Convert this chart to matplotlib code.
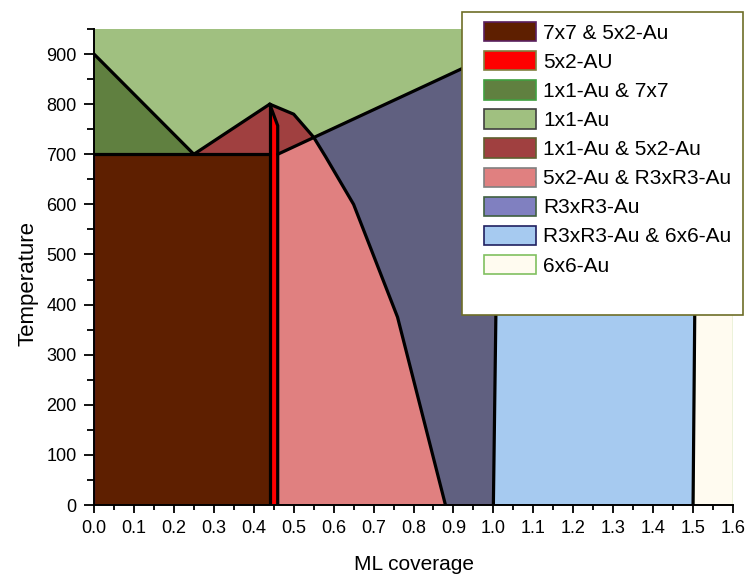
import matplotlib
matplotlib.use("Agg")
import matplotlib.pyplot as plt
from matplotlib.patches import Patch, Rectangle
from matplotlib.ticker import MultipleLocator, FormatStrFormatter

plt.rcParams['font.family'] = ['Liberation Sans', 'DejaVu Sans']

# ---- phase labels (legend order) ----
phase_labels = ["7x7 & 5x2-Au", "5x2-AU", "1x1-Au & 7x7", "1x1-Au",
                "1x1-Au & 5x2-Au", "5x2-Au & R3xR3-Au", "R3xR3-Au",
                "R3xR3-Au & 6x6-Au", "6x6-Au"]

# ---- region outlines: coverage (ML) and temperature ----
cov_7x7_5x2 = [0.0, 0.44, 0.44, 0.0]
temp_7x7_5x2 = [0, 0, 700, 700]

cov_5x2 = [0.44, 0.46, 0.46, 0.44]
temp_5x2 = [0, 0, 757, 800]

cov_1x1_7x7 = [0.0, 0.0, 0.25]
temp_1x1_7x7 = [700, 900, 700]

cov_1x1 = [0.0, 0.25, 0.44, 0.50, 0.55, 1.0, 1.6, 1.6, 0.0]
temp_1x1 = [900, 700, 800, 780, 734, 900, 900, 950, 950]

cov_1x1_5x2 = [0.25, 0.44, 0.50, 0.55, 0.46]
temp_1x1_5x2 = [700, 800, 780, 734, 700]

cov_5x2_r3 = [0.46, 0.88, 0.76, 0.65, 0.58, 0.55, 0.46]
temp_5x2_r3 = [0, 0, 375, 600, 695, 734, 700]

cov_r3 = [0.88, 1.0, 1.015, 0.55, 0.58, 0.65, 0.76]
temp_r3 = [0, 0, 905, 734, 695, 600, 375]

cov_r3_6x6 = [1.0, 1.5, 1.51, 1.015]
temp_r3_6x6 = [0, 0, 905, 905]

cov_6x6 = [1.5, 1.6, 1.6, 1.51]
temp_6x6 = [0, 0, 905, 905]

# ---- phase boundaries ----
bound_1x1_7x7_cov = [0.0, 0.25]
bound_1x1_7x7_temp = [900, 700]
bound_700_cov = [0.0, 0.44]
bound_700_temp = [700, 700]
bound_left_peak_cov = [0.25, 0.44]
bound_left_peak_temp = [700, 800]
bound_5x2_left_cov = [0.44, 0.44]
bound_5x2_left_temp = [0, 800]
bound_5x2_right_cov = [0.44, 0.46, 0.46]
bound_5x2_right_temp = [800, 757, 0]
bound_curve_cov = [0.44, 0.50, 0.55, 0.58, 0.65, 0.76, 0.88]
bound_curve_temp = [800, 780, 734, 695, 600, 375, 0]
bound_r3_top_cov = [0.46, 1.0]
bound_r3_top_temp = [700, 900]
bound_one_cov = [1.0, 1.015]
bound_one_temp = [0, 905]
bound_onehalf_cov = [1.5, 1.51]
bound_onehalf_temp = [0, 905]

W, H = 747, 579
fig = plt.figure(figsize=(W / 100, H / 100), dpi=100)
ax = fig.add_axes([94 / W, 74 / H, 639 / W, 476 / H])

regions = [
    (cov_1x1, temp_1x1, "#A0C080", "#A0C080"),
    (cov_7x7_5x2, temp_7x7_5x2, "#5E1F00", "#4A1050"),
    (cov_1x1_7x7, temp_1x1_7x7, "#608040", "#608040"),
    (cov_1x1_5x2, temp_1x1_5x2, "#A04040", "#A04040"),
    (cov_5x2_r3, temp_5x2_r3, "#E08080", "#A04040"),
    (cov_r3, temp_r3, "#606080", "#802030"),
    (cov_r3_6x6, temp_r3_6x6, "#A6CAF0", "#4060C0"),
    (cov_6x6, temp_6x6, "#FFFBF0", "#A0D080"),
    (cov_5x2, temp_5x2, "#FF0000", "#FF0000"),
]
for cx, ty, fc, ec in regions:
    ax.fill(cx, ty, facecolor=fc, edgecolor=ec, linewidth=1.0, zorder=1)

boundaries = [
    (bound_1x1_7x7_cov, bound_1x1_7x7_temp),
    (bound_700_cov, bound_700_temp),
    (bound_left_peak_cov, bound_left_peak_temp),
    (bound_5x2_left_cov, bound_5x2_left_temp),
    (bound_5x2_right_cov, bound_5x2_right_temp),
    (bound_curve_cov, bound_curve_temp),
    (bound_r3_top_cov, bound_r3_top_temp),
    (bound_one_cov, bound_one_temp),
    (bound_onehalf_cov, bound_onehalf_temp),
]
for cx, ty in boundaries:
    ax.plot(cx, ty, color="black", linewidth=2.3, solid_joinstyle="round",
            solid_capstyle="round", zorder=3)

ax.set_xlim(0, 1.6)
ax.set_ylim(0, 950)

for side in ("top", "right"):
    ax.spines[side].set_visible(False)
for side in ("left", "bottom"):
    ax.spines[side].set_linewidth(1.4)
    ax.spines[side].set_zorder(4)

ax.xaxis.set_major_locator(MultipleLocator(0.1))
ax.xaxis.set_minor_locator(MultipleLocator(0.05))
ax.xaxis.set_major_formatter(FormatStrFormatter("%.1f"))
ax.yaxis.set_major_locator(MultipleLocator(100))
ax.yaxis.set_minor_locator(MultipleLocator(50))

ax.tick_params(axis="x", which="major", direction="out", length=6, width=1.3,
               labelsize=13, pad=5)
ax.tick_params(axis="x", which="minor", direction="out", length=3.6, width=1.3)
ax.tick_params(axis="y", which="major", direction="out", length=7.5, width=1.3,
               labelsize=13, pad=5)
ax.tick_params(axis="y", which="minor", direction="out", length=5, width=1.3)

ax.set_xlabel("ML coverage", fontsize=15)
ax.set_ylabel("Temperature", fontsize=16)
ax.xaxis.set_label_coords(0.5, -0.126)
ax.yaxis.set_label_coords(-0.103, 0.466)
ax.xaxis.label.set_va("center")
ax.yaxis.label.set_va("center")

# legend box and entries
fig.add_artist(Rectangle((462 / W, 264 / H), 281 / W, 303 / H,
                         transform=fig.transFigure, facecolor="white",
                         edgecolor="#6E6E28", linewidth=1.2, zorder=2))

legend_faces = ["#5E1F00", "#FF0000", "#608040", "#A0C080", "#A04040",
                "#E08080", "#8080C0", "#A6CAF0", "#FFFBF0"]
legend_edges = ["#5A2060", "#808040", "#40A040", "#404040", "#606030",
                "#808080", "#406040", "#202060", "#80C060"]
handles = [Patch(facecolor=f, edgecolor=e, linewidth=1.2)
           for f, e in zip(legend_faces, legend_edges)]
fig.legend(handles, phase_labels, loc="upper left",
           bbox_to_anchor=(484 / W, 557 / H), bbox_transform=fig.transFigure,
           frameon=False, borderpad=0, borderaxespad=0, fontsize=15,
           handlelength=2.5, handleheight=1.05, handletextpad=0.33,
           labelspacing=0.4)

fig.savefig("out.png", dpi=100)
